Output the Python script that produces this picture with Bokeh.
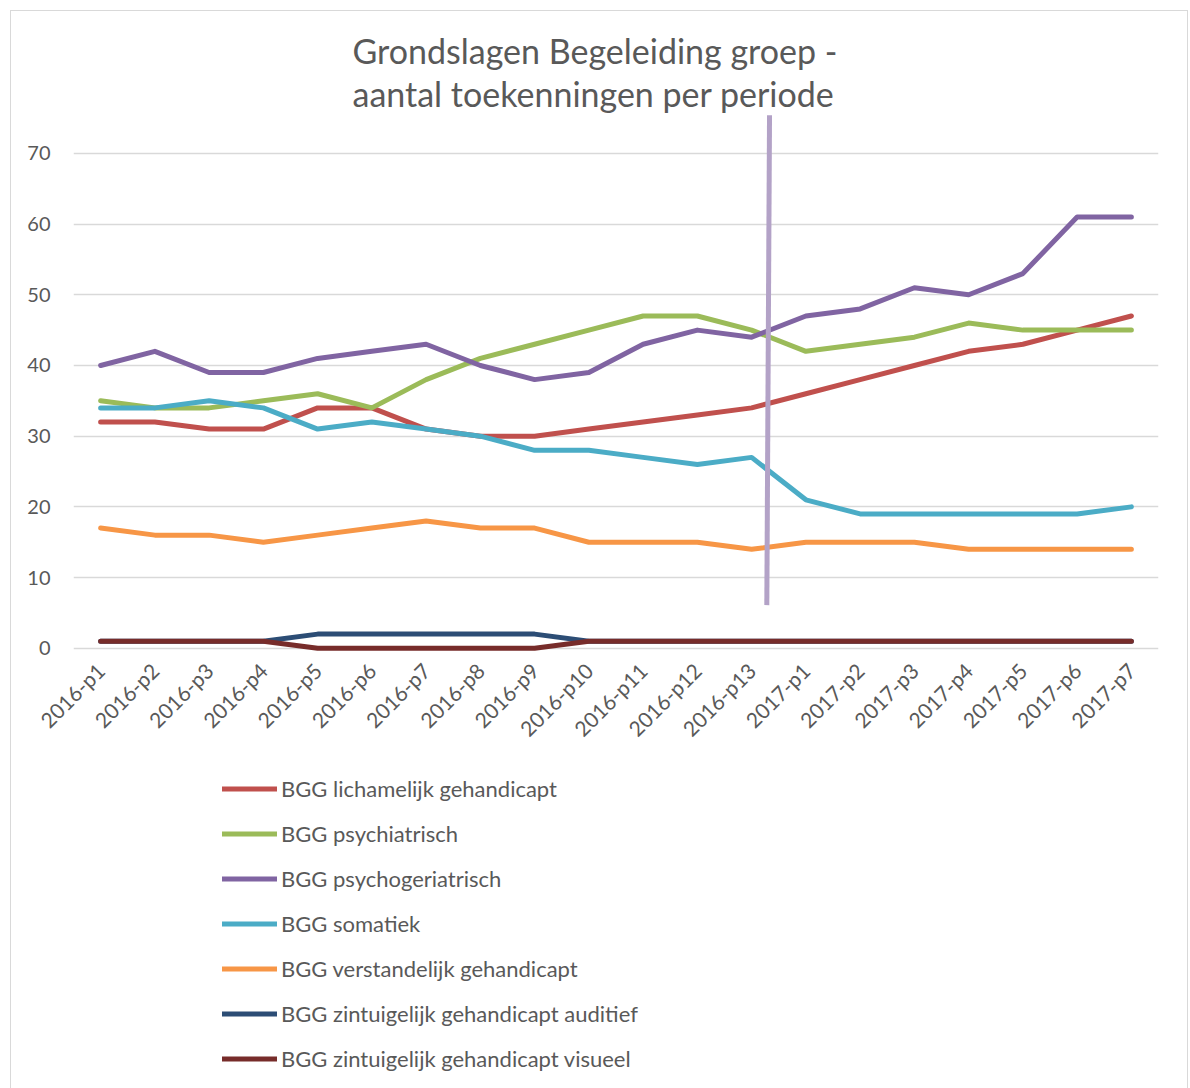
from bokeh.plotting import figure
from bokeh.layouts import column
from bokeh.models import (FactorRange, Range1d, FixedTicker, Legend, LegendItem, Title)
from bokeh.embed import file_html
from bokeh.resources import INLINE
import math

periods = ["2016-p1", "2016-p2", "2016-p3", "2016-p4", "2016-p5", "2016-p6", "2016-p7",
           "2016-p8", "2016-p9", "2016-p10", "2016-p11", "2016-p12", "2016-p13",
           "2017-p1", "2017-p2", "2017-p3", "2017-p4", "2017-p5", "2017-p6", "2017-p7"]

lichamelijk = [32, 32, 31, 31, 34, 34, 31, 30, 30, 31, 32, 33, 34, 36, 38, 40, 42, 43, 45, 47]
psychiatrisch = [35, 34, 34, 35, 36, 34, 38, 41, 43, 45, 47, 47, 45, 42, 43, 44, 46, 45, 45, 45]
psychogeriatrisch = [40, 42, 39, 39, 41, 42, 43, 40, 38, 39, 43, 45, 44, 47, 48, 51, 50, 53, 61, 61]
somatiek = [34, 34, 35, 34, 31, 32, 31, 30, 28, 28, 27, 26, 27, 21, 19, 19, 19, 19, 19, 20]
verstandelijk = [17, 16, 16, 15, 16, 17, 18, 17, 17, 15, 15, 15, 14, 15, 15, 15, 14, 14, 14, 14]
auditief = [1, 1, 1, 1, 2, 2, 2, 2, 2, 1, 1, 1, 1, 1, 1, 1, 1, 1, 1, 1]
visueel = [1, 1, 1, 1, 0, 0, 0, 0, 0, 1, 1, 1, 1, 1, 1, 1, 1, 1, 1, 1]

series_names = ["BGG lichamelijk gehandicapt", "BGG psychiatrisch", "BGG psychogeriatrisch",
                "BGG somatiek", "BGG verstandelijk gehandicapt",
                "BGG zintuigelijk gehandicapt auditief", "BGG zintuigelijk gehandicapt visueel"]
series_values = [lichamelijk, psychiatrisch, psychogeriatrisch, somatiek, verstandelijk,
                 auditief, visueel]
series_colors = ["#C0504D", "#9BBB59", "#8064A2", "#4BACC6", "#F79646", "#2C4D75", "#772C2A"]

y_ticks = [0, 10, 20, 30, 40, 50, 60, 70]

# drawn marker line between 2016-p13 and 2017-p1
marker_period = "2016-p13"
marker_offsets = [0.33, 0.28]   # top, bottom
marker_y = [75.4, 6.1]          # top, bottom

TEXT = "#595959"
FONT = "Lato"
LW = 5

p = figure(width=1176, height=749, x_range=FactorRange(*periods, range_padding=0),
           y_range=Range1d(-0.6, 75.5), output_backend="svg", toolbar_location=None,
           min_border_left=62, min_border_right=29, min_border_top=103,
           min_border_bottom=108)
p.outline_line_color = None

for name, vals, col in zip(series_names, series_values, series_colors):
    p.line(periods, vals, line_color=col, line_width=LW, line_cap="round",
           line_join="round")

p.segment(x0=[(marker_period, marker_offsets[0])], y0=[marker_y[0]],
          x1=[(marker_period, marker_offsets[1])], y1=[marker_y[1]],
          line_color="#B3A2C7", line_width=5)

# axes
p.yaxis.ticker = FixedTicker(ticks=y_ticks)
p.yaxis.axis_line_color = None
p.yaxis.major_tick_line_color = None
p.yaxis.minor_tick_line_color = None
p.yaxis.major_label_standoff = 17
p.yaxis.major_label_text_font = FONT
p.yaxis.major_label_text_font_size = "20px"
p.yaxis.major_label_text_color = TEXT

p.xaxis.axis_line_color = None
p.xaxis.major_tick_line_color = None
p.xaxis.major_label_orientation = math.pi / 4
p.xaxis.major_label_standoff = 8
p.xaxis.major_label_text_font = FONT
p.xaxis.major_label_text_font_size = "21px"
p.xaxis.major_label_text_color = TEXT

p.xgrid.grid_line_color = None
p.ygrid.ticker = FixedTicker(ticks=y_ticks)
p.ygrid.grid_line_color = "#D9D9D9"
p.ygrid.grid_line_width = 1.5

# title
p.title = Title(text="Grondslagen Begeleiding groep -\naantal toekenningen per periode",
                align="left", text_font=FONT, text_font_size="34px",
                text_font_style="normal", text_color=TEXT, offset=279, standoff=0,
                text_line_height=1.05)

# legend panel below the chart (frames of a column are aligned with the chart's)
lf = figure(width=1176, height=330, x_range=Range1d(0, 1), y_range=Range1d(0, 1),
            output_backend="svg", toolbar_location=None,
            min_border_left=62, min_border_right=29, min_border_top=0, min_border_bottom=0)
lf.axis.visible = False
lf.grid.visible = False
lf.outline_line_color = None

proxies = []
for name, col in zip(series_names, series_colors):
    # legend proxies: placed outside the visible range
    proxies.append(lf.line(x=[-5, -4], y=[-5, -4], line_color=col, line_width=LW,
                           line_cap="round"))

legend = Legend(items=[LegendItem(label=n, renderers=[r]) for n, r in zip(series_names, proxies)],
                orientation="vertical", location=(149, 18))
legend.border_line_color = None
legend.background_fill_alpha = 0
legend.label_text_font = FONT
legend.label_text_font_size = "22px"
legend.label_text_color = TEXT
legend.glyph_width = 55
legend.glyph_height = 27
legend.label_height = 27
legend.spacing = 18
legend.label_standoff = 4
legend.padding = 0
legend.margin = 0
lf.add_layout(legend)

layout = column(p, lf, spacing=0,
                styles={"border": "1px solid #D9D9D9", "margin": "10px 0 0 10px"})

open("out.html", "w").write(file_html(layout, INLINE))
